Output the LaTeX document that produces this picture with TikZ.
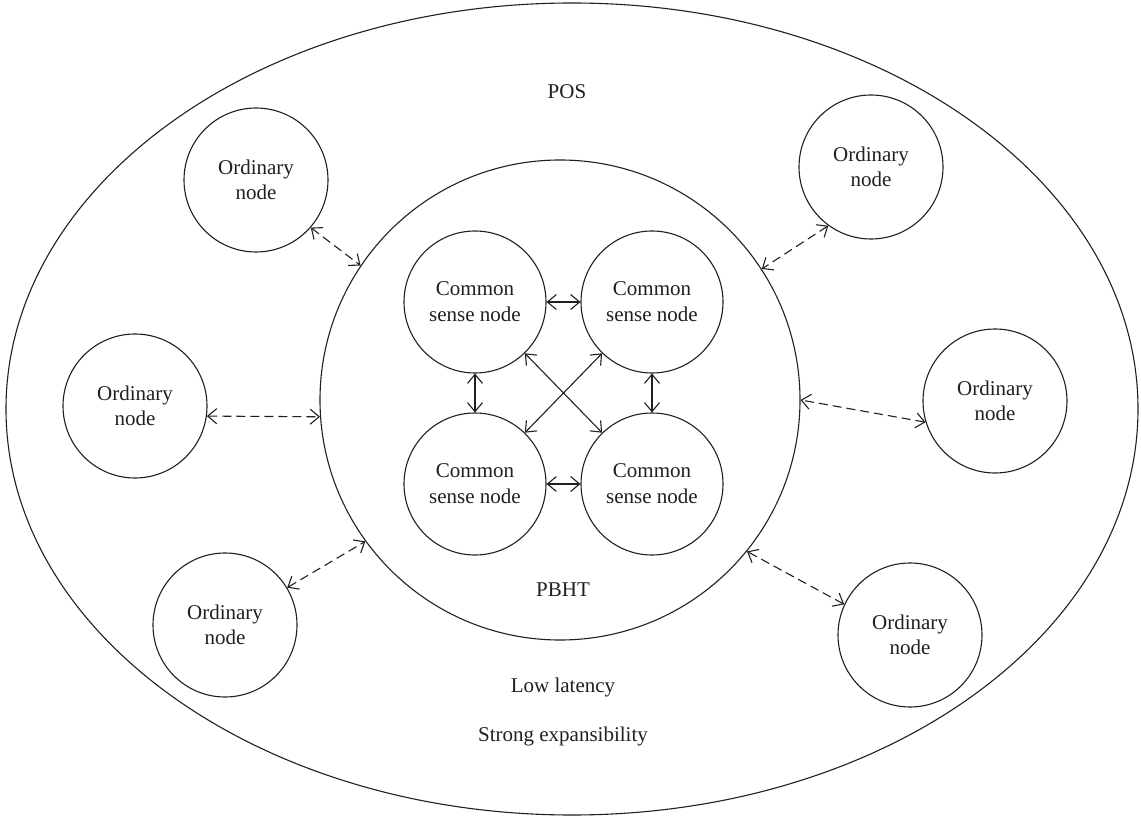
\documentclass[tikz,border=0pt]{standalone}
\usepackage{fontspec}
\setmainfont{Liberation Serif}
\usetikzlibrary{arrows.meta}
\definecolor{ink}{HTML}{231F20}
\begin{document}
\begin{tikzpicture}[x=1pt,y=-1pt,
  ink line/.style={draw=ink, line width=1.1pt},
  ordinary/.style={ink line, circle, minimum size=144pt, inner sep=0pt,
    align=center, text=ink, font=\fontsize{21}{25}\selectfont},
  common/.style={ink line, circle, minimum size=142pt, inner sep=0pt,
    align=center, text=ink, font=\fontsize{21}{26}\selectfont},
  label text/.style={text=ink, font=\fontsize{21}{25}\selectfont, inner sep=0pt},
  link/.style={ink line, {Straight Barb[length=9pt,width=15pt]}-{Straight Barb[length=9pt,width=15pt]}},
  loose link/.style={link, dash pattern=on 9pt off 5pt}
]
\useasboundingbox (0,0) rectangle (1141,818);
\fill[white] (0,0) rectangle (1141,818);

% outer region
\draw[ink line] (572,409) ellipse [x radius=566, y radius=406];
\node[label text] (pos) at (567,92) {POS};

% inner region
\node[ink line, circle, minimum size=480pt, inner sep=0pt] (pbht) at (560,400) {};
\node[label text] (pbhtlabel) at (563,590) {PBHT};

% common sense nodes
\node[common] (c1) at (475,302) {Common\\sense node};
\node[common] (c2) at (652,302) {Common\\sense node};
\node[common] (c3) at (475,484) {Common\\sense node};
\node[common] (c4) at (652,484) {Common\\sense node};

\draw[link] (c1) -- (c2);
\draw[link] (c3) -- (c4);
\draw[link] (c1) -- (c3);
\draw[link] (c2) -- (c4);
\draw[link] (c1) -- (c4);
\draw[link] (c2) -- (c3);

% ordinary nodes
\node[ordinary] (o1) at (256,180) {Ordinary\\node};
\node[ordinary] (o2) at (871,167) {Ordinary\\node};
\node[ordinary] (o3) at (135,406) {Ordinary\\node};
\node[ordinary] (o4) at (995,401) {Ordinary\\node};
\node[ordinary] (o5) at (225,625) {Ordinary\\node};
\node[ordinary] (o6) at (910,635) {Ordinary\\node};

\draw[loose link] (o1.-41) -- (pbht.146.6);
\draw[loose link] (o2.-126.6) -- (pbht.33.7);
\draw[loose link] (o3.-8) -- (pbht.-176.2);
\draw[loose link] (o4.-163) -- (pbht.-0.5);
\draw[loose link] (o5.31.9) -- (pbht.-144.1);
\draw[loose link] (o6.155.2) -- (pbht.-39.6);

% properties
\node[label text] (lat) at (563,687) {Low latency};
\node[label text] (exp) at (563,736) {Strong expansibility};
\end{tikzpicture}
\end{document}
